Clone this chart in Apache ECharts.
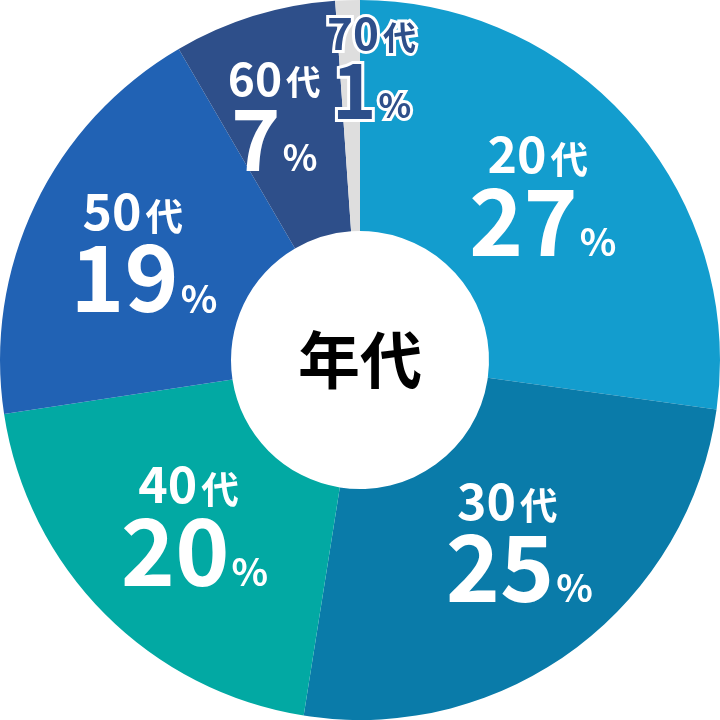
<!DOCTYPE html>
<html>
<head>
<meta charset="utf-8">
<script src="https://cdn.jsdelivr.net/npm/echarts@6/dist/echarts.min.js"></script>
<style>
html,body{margin:0;padding:0;background:#fff;}
#c{width:720px;height:720px;}
</style>
</head>
<body>
<div id="c"></div>
<script>
const categories = ['20代','30代','40代','50代','60代','70代'];
const shares = [27.2, 25.3, 20.1, 19.0, 7.3, 1.1];
const colors = ['#139dce','#0a7ba9','#02a9a3','#2162b4','#2e4f8a','#dedede'];
const centerTitle = '年代';
// label offsets from the default "inside" anchor (dx, dy)
const labelShift = [[-4,-6],[12,-21],[10,-13],[7,-5],[-13,-8],[20,-45]];
// horizontal nudge of the first label line (px, negative = left)
const firstLineNudge = [-5,-12,-6,-11,0,0];

const chart = echarts.init(document.getElementById('c'));
const FONT = '"Noto Sans CJK JP","Noto Sans",sans-serif';

function richFor(color, stroke, big, top, pct, lh1, nudge) {
  const base = {color: color, fontFamily: FONT, fontWeight: 'bold'};
  if (stroke) { base.textBorderColor = '#fff'; base.textBorderWidth = 6; }
  const padR = nudge < 0 ? -2 * nudge : 0;
  const padL = nudge > 0 ? 2 * nudge : 0;
  return {
    a: Object.assign({}, base, {fontSize: top, lineHeight: lh1, verticalAlign:'bottom', padding:[0,0,0,padL]}),
    k: Object.assign({}, base, {fontSize: top*0.75, lineHeight: lh1, verticalAlign:'bottom', padding:[0,padR,2,4]}),
    b: Object.assign({}, base, {fontSize: big, lineHeight: big*0.95, verticalAlign:'bottom'}),
    p: Object.assign({}, base, {fontSize: pct, lineHeight: big*0.95, verticalAlign:'bottom', padding:[0,0,6,2]})
  };
}

const data = categories.map((c, i) => {
  const isLast = i === categories.length - 1;
  const small = i >= 4;
  const n = firstLineNudge[i];
  return {
    name: c,
    value: shares[i],
    itemStyle: {color: colors[i]},
    label: {
      show: true,
      position: 'inside',
      formatter: function (p) {
        const num = c.replace('代','');
        return '{a|' + num + '}{k|代}\n{b|' + Math.round(p.value) + '}{p|%}';
      },
      rich: isLast ? richFor('#2e4f8a', true, 76, 44, 34, 48, n)
                   : small ? richFor('#fff', false, 84, 46, 36, 51, n)
                           : richFor('#fff', false, 92, 50, 38, 63, n)
    }
  };
});

chart.setOption({
  animation: false,
  backgroundColor: '#fff',
  title: {
    text: centerTitle,
    left: 'center',
    top: 'middle',
    textStyle: {fontFamily: FONT, fontWeight: 'bold', fontSize: 62, color: '#000'}
  },
  series: [{
    type: 'pie',
    center: ['50%','50%'],
    radius: [129, 360],
    startAngle: 90,
    clockwise: true,
    avoidLabelOverlap: false,
    label: {show: true, position: 'inside'},
    labelLine: {show: false},
    labelLayout: function (params) {
      const s = labelShift[params.dataIndex];
      return {dx: s[0], dy: s[1]};
    },
    emphasis: {disabled: true},
    itemStyle: {borderWidth: 0},
    data: data
  }]
});
</script>
</body>
</html>
